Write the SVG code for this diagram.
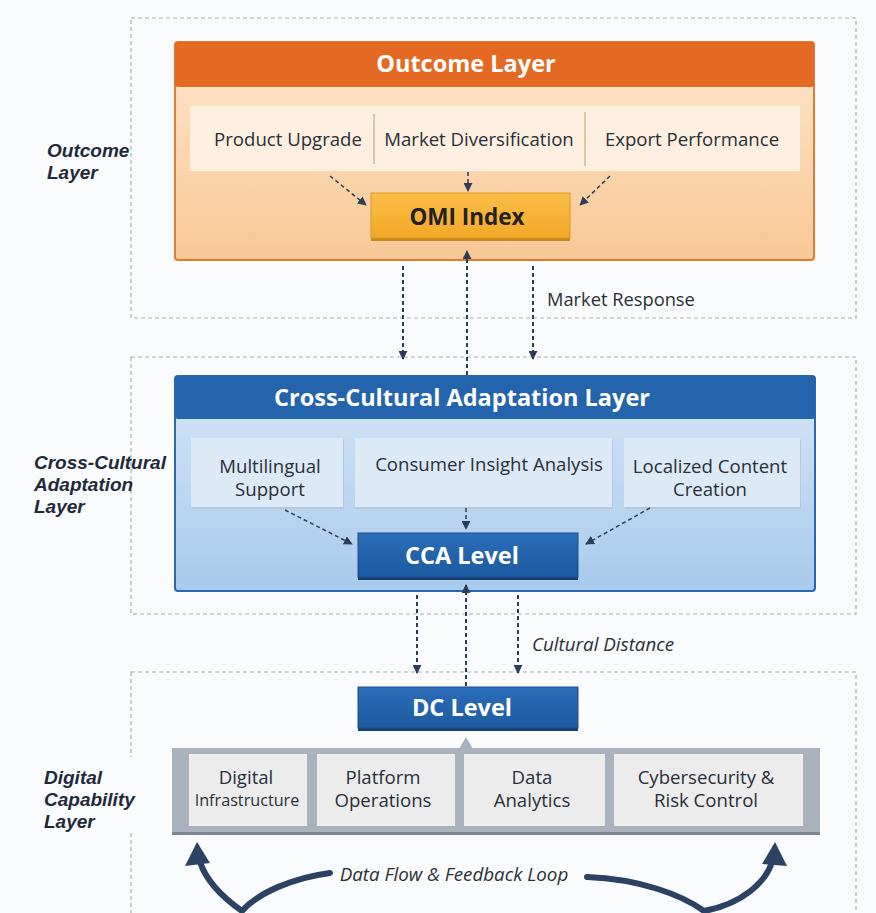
<svg xmlns="http://www.w3.org/2000/svg" width="876" height="913" viewBox="0 0 876 913">
<defs>
<linearGradient id="gOr" x1="0" y1="0" x2="0" y2="1"><stop offset="0" stop-color="#fde6cc"/><stop offset="1" stop-color="#f9c896"/></linearGradient>
<linearGradient id="gBl" x1="0" y1="0" x2="0" y2="1"><stop offset="0" stop-color="#d6e6f7"/><stop offset="1" stop-color="#a9caec"/></linearGradient>
<linearGradient id="gOmi" x1="0" y1="0" x2="0" y2="1"><stop offset="0" stop-color="#fbbd48"/><stop offset="1" stop-color="#f3a928"/></linearGradient>
<linearGradient id="gDb" x1="0" y1="0" x2="0" y2="1"><stop offset="0" stop-color="#2b6db8"/><stop offset="1" stop-color="#1d5aa0"/></linearGradient>
<marker id="ah" viewBox="0 0 10 10" refX="9" refY="5" markerWidth="4.5" markerHeight="4.5" orient="auto" markerUnits="strokeWidth"><path d="M0,0 L10,5 L0,10 z" fill="#2b3d5a"/></marker>
<marker id="ahs" viewBox="0 0 10 10" refX="9" refY="5" markerWidth="6" markerHeight="6" orient="auto" markerUnits="strokeWidth"><path d="M0,0 L10,5 L0,10 z" fill="#2b3d5a"/></marker>
</defs>
<style>
.frame{fill:none;stroke:#a9adb3;stroke-width:1.2;stroke-dasharray:4 3}
.side{font-family:"Liberation Sans",Arial,sans-serif;font-weight:bold;font-style:italic;font-size:19px;fill:#1f2a3a}
.title{font-family:"Open Sans","Liberation Sans",sans-serif;font-weight:bold;font-size:23.5px;fill:#ffffff;text-anchor:middle}
.item{font-family:"Open Sans","Liberation Sans",sans-serif;font-size:18.6px;fill:#2a2f38;text-anchor:middle}
.item.sm{font-size:16.2px}
.lvl{font-family:"Open Sans","Liberation Sans",sans-serif;font-weight:bold;font-size:23.5px;fill:#ffffff;text-anchor:middle}
.lbl{font-family:"Open Sans","Liberation Sans",sans-serif;font-size:18.3px;fill:#2a2f38}
.lbli{font-family:"Open Sans","Liberation Sans",sans-serif;font-style:italic;font-size:18.8px;fill:#2a2f38}
.dash{fill:none;stroke:#2b3d5a;stroke-width:2;stroke-dasharray:4 3}
.dashs{fill:none;stroke:#2b3d5a;stroke-width:1.5;stroke-dasharray:4 3}
.loop{fill:none;stroke:#2c4264;stroke-width:6;stroke-linecap:round}
</style>
<rect width="876" height="913" fill="#fafbfc"/>

<!-- frames -->
<rect class="frame" x="131" y="18" width="725" height="300"/>
<rect class="frame" x="131" y="357" width="725" height="257"/>
<rect class="frame" x="131" y="672" width="725" height="250"/>

<!-- Outcome layer -->
<g id="outcome-layer">
<rect x="175" y="42" width="639" height="218" rx="3" fill="url(#gOr)" stroke="#e8782e" stroke-width="2"/>
<rect x="175" y="42" width="639" height="45" rx="3" fill="#e46a24"/>
<text class="title" x="466" y="72">Outcome Layer</text>
<rect x="190" y="106" width="610" height="65" fill="#fdf0e0"/>
<line x1="374" y1="114" x2="374" y2="164" stroke="#b89a7a" stroke-width="1"/>
<line x1="585" y1="112" x2="585" y2="166" stroke="#b89a7a" stroke-width="1"/>
<text class="item" x="288" y="145.5">Product Upgrade</text>
<text class="item" x="479" y="145.5">Market Diversification</text>
<text class="item" x="692" y="145.5">Export Performance</text>
</g>
<g id="omi-index">
<rect x="371" y="195" width="199" height="46" fill="#c98a1c"/>
<rect x="371" y="193" width="199" height="45" fill="url(#gOmi)" stroke="#d49a2a" stroke-width="1"/>
<text x="467" y="225" font-family="'Open Sans','Liberation Sans',sans-serif" font-weight="bold" font-size="22.5" fill="#222" text-anchor="middle">OMI Index</text>
</g>

<!-- CCA layer -->
<g id="cca-layer">
<rect x="175" y="376" width="640" height="215" rx="3" fill="url(#gBl)" stroke="#2a67ae" stroke-width="2"/>
<rect x="175" y="376" width="640" height="43" rx="3" fill="#2464ad"/>
<text class="title" x="462" y="406">Cross-Cultural Adaptation Layer</text>
<rect x="192" y="440" width="152" height="69" fill="#b7c8da"/>
<rect x="191" y="438" width="152" height="69" fill="#dce9f6"/>
<rect x="356" y="440" width="257" height="69" fill="#b7c8da"/>
<rect x="355" y="438" width="257" height="69" fill="#dce9f6"/>
<rect x="625" y="440" width="176" height="69" fill="#b7c8da"/>
<rect x="624" y="438" width="176" height="69" fill="#dce9f6"/>
<text class="item" x="270" y="472.5">Multilingual</text>
<text class="item" x="270" y="495.5">Support</text>
<text class="item" x="489" y="470.5">Consumer Insight Analysis</text>
<text class="item" x="710" y="472.5">Localized Content</text>
<text class="item" x="710" y="495.5">Creation</text>
</g>
<g id="cca-level">
<rect x="358" y="535" width="220" height="45" fill="#153f73"/>
<rect x="358" y="533" width="220" height="44" fill="url(#gDb)" stroke="#1a4f8e" stroke-width="1"/>
<text class="lvl" x="462" y="564">CCA Level</text>
</g>

<!-- Digital capability layer -->
<rect x="20" y="757" width="152" height="76" fill="#fafbfc"/>
<g id="dc-level">
<rect x="358" y="689" width="220" height="42" fill="#153f73"/>
<rect x="358" y="687" width="220" height="41" fill="url(#gDb)" stroke="#1a4f8e" stroke-width="1"/>
<text class="lvl" x="462" y="716">DC Level</text>
</g>
<g id="digital-layer">
<rect x="172" y="750" width="648" height="85" fill="#7d8591"/>
<rect x="172" y="748" width="648" height="84" fill="#aab2be"/>
<polygon points="459,749 466,737 473,749" fill="#aab2be"/>
<rect x="189" y="754" width="118" height="72" fill="#ececec"/>
<rect x="317" y="754" width="138" height="72" fill="#ececec"/>
<rect x="464" y="754" width="141" height="72" fill="#ececec"/>
<rect x="614" y="754" width="189" height="72" fill="#ececec"/>
<text class="item" x="246" y="783.5">Digital</text>
<text class="item sm" x="247" y="806">Infrastructure</text>
<text class="item" x="383" y="783.5">Platform</text>
<text class="item" x="383" y="806.5">Operations</text>
<text class="item" x="532" y="783.5">Data</text>
<text class="item" x="532" y="806.5">Analytics</text>
<text class="item" x="706" y="783.5">Cybersecurity &amp;</text>
<text class="item" x="706" y="806.5">Risk Control</text>
</g>

<!-- side labels -->
<g id="side-labels">
<text class="side" x="47" y="157">Outcome</text>
<text class="side" x="47" y="179">Layer</text>
<text class="side" x="34" y="469">Cross-Cultural</text>
<text class="side" x="34" y="491">Adaptation</text>
<text class="side" x="34" y="513">Layer</text>
<text class="side" x="44" y="784">Digital</text>
<text class="side" x="44" y="806">Capability</text>
<text class="side" x="44" y="828">Layer</text>
</g>

<!-- connectors -->
<g id="connectors">
<line class="dashs" x1="330" y1="176" x2="366" y2="205" marker-end="url(#ahs)"/>
<line class="dashs" x1="468" y1="172" x2="468" y2="191" marker-end="url(#ahs)"/>
<line class="dashs" x1="610" y1="176" x2="580" y2="205" marker-end="url(#ahs)"/>

<line class="dash" x1="403" y1="266" x2="403" y2="359" marker-end="url(#ah)"/>
<line class="dash" x1="467" y1="375" x2="467" y2="251" marker-end="url(#ah)"/>
<line class="dash" x1="533" y1="266" x2="533" y2="359" marker-end="url(#ah)"/>
<text class="lbl" x="547" y="306">Market Response</text>

<line class="dashs" x1="285" y1="510" x2="352" y2="544" marker-end="url(#ahs)"/>
<line class="dashs" x1="466" y1="508" x2="466" y2="529" marker-end="url(#ahs)"/>
<line class="dashs" x1="650" y1="508" x2="586" y2="544" marker-end="url(#ahs)"/>

<line class="dash" x1="417" y1="595" x2="417" y2="673" marker-end="url(#ah)"/>
<line class="dash" x1="466" y1="686" x2="466" y2="585" marker-end="url(#ah)"/>
<line class="dash" x1="518" y1="595" x2="518" y2="673" marker-end="url(#ah)"/>
<text class="lbli" x="532" y="651">Cultural Distance</text>

<path class="loop" d="M330,873 C292,878 258,893 242,911 C222,897 206,880 200,862"/>
<polygon points="197,842 185,866 210,863" fill="#2c4264"/>
<path class="loop" d="M587,877 C640,879 682,895 704,911 C742,904 766,882 772,862"/>
<polygon points="775,842 762,864 787,866" fill="#2c4264"/>
<text class="lbli" x="454" y="881" text-anchor="middle">Data Flow &amp; Feedback Loop</text>
</g>
</svg>
